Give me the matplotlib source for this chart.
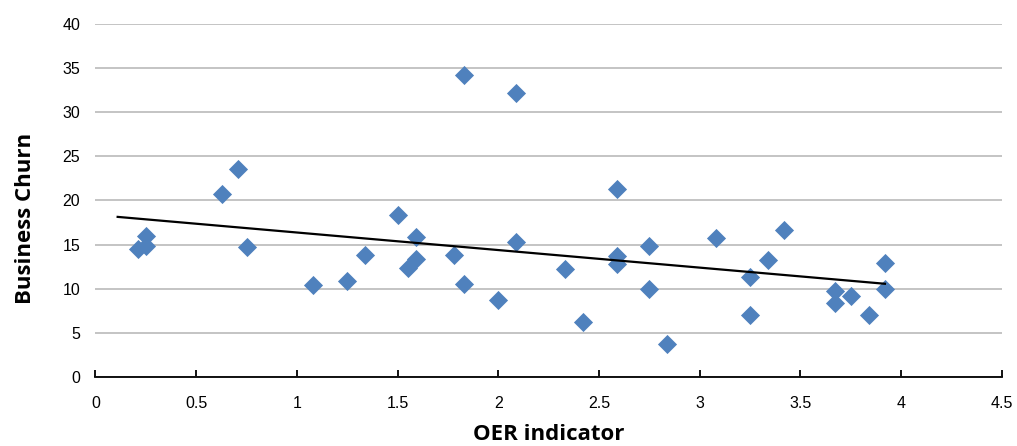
import numpy as np
import matplotlib.pyplot as plt

plt.rcParams['font.family'] = ['Liberation Sans', 'DejaVu Sans']

# OER indicator vs business churn
oer = [0.21, 0.25, 0.25, 0.63, 0.71, 0.75, 1.08, 1.25, 1.34, 1.50,
       1.55, 1.59, 1.59, 1.78, 1.83, 1.83, 2.00, 2.09, 2.09, 2.33,
       2.42, 2.59, 2.59, 2.59, 2.75, 2.75, 2.84, 3.08, 3.25, 3.25,
       3.34, 3.42, 3.67, 3.67, 3.75, 3.84, 3.92, 3.92]
churn = [14.5, 16.0, 14.8, 20.7, 23.6, 14.7, 10.4, 10.9, 13.8, 18.4,
         12.4, 15.9, 13.4, 13.8, 34.2, 10.5, 8.7, 32.2, 15.3, 12.2,
         6.2, 21.3, 13.7, 12.8, 14.8, 10.0, 3.7, 15.7, 11.3, 7.0,
         13.3, 16.7, 9.7, 8.4, 9.2, 7.0, 12.9, 10.0]

x = np.array(oer)
y = np.array(churn)

fig = plt.figure(figsize=(10.17, 4.46), dpi=100)
ax = fig.add_axes([0.0939, 0.1547, 0.8911, 0.7915])

ax.set_axisbelow(True)
ax.grid(axis='y', color='#BFBFBF', linewidth=1.3)
ax.scatter(x, y, marker='D', s=95, color='#4F81BD', zorder=3, linewidths=0)

# linear trendline, extended back a little like Excel's
slope, icpt = np.polyfit(x, y, 1)
xt = np.array([x.min() - 0.1, x.max()])
ax.plot(xt, slope * xt + icpt, color='black', linewidth=1.6, zorder=4)

ax.set_xlim(0, 4.5)
ax.set_ylim(0, 40)
ax.set_xticks(np.arange(0, 4.51, 0.5))
ax.set_xticklabels(['0', '0.5', '1', '1.5', '2', '2.5', '3', '3.5', '4', '4.5'])
ax.set_yticks(range(0, 41, 5))

for s in ['top', 'right', 'left']:
    ax.spines[s].set_visible(False)
ax.spines['bottom'].set_linewidth(1.3)
ax.tick_params(axis='x', direction='in', length=5, width=1.3, labelsize=11.5, pad=14)
ax.tick_params(axis='y', length=0, labelsize=11.5, pad=11)

lab = dict(family=['Open Sans', 'DejaVu Sans'], fontsize=16, fontweight='bold')
ax.set_xlabel('OER indicator', labelpad=9, **lab)
ax.set_ylabel('Business Churn', **lab)
ax.yaxis.set_label_coords(-0.066, 0.45)

fig.savefig('out.png', dpi=100)
